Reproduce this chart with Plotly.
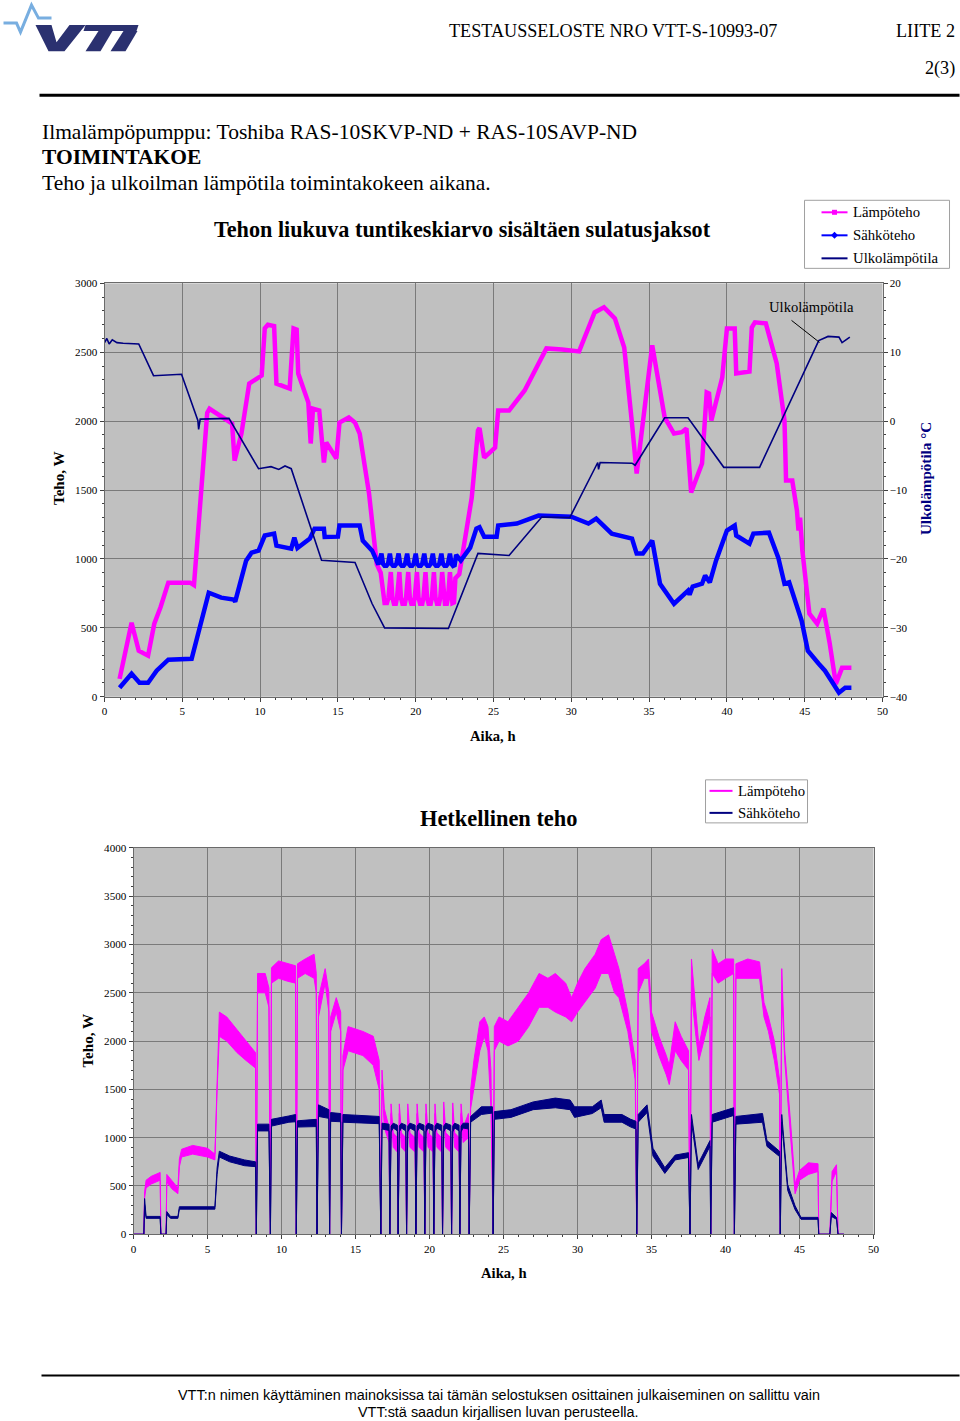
import plotly.graph_objects as go

FW, FH = 960, 1421

# ---------------- Chart 1: hourly moving average ----------------
lamp1 = [(0.97,130),(1.74,537),(2.2,334),(2.8,298),(3.2,530),(3.6,650),(4.1,828),(5.5,828),(5.75,810),
         (6.6,2060),(6.75,2090),(7.2,2055),(8.2,1983),(8.36,1714),(8.8,1910),(9.1,2128),(9.3,2273),(10.1,2331),
         (10.3,2673),(10.5,2700),(10.9,2690),(11.05,2273),(11.9,2237),(12.15,2673),(12.35,2665),(12.45,2346),
         (13.1,2135),(13.25,1838),(13.4,2090),(13.8,2077),(14.1,1700),(14.25,1845),(14.9,1729),(15.1,1990),
         (15.7,2027),(16.1,1990),(16.4,1910),(17.0,1475),(17.3,1150),(17.5,960),(17.75,900),
         (17.9,720),(18.0,680),(18.15,680),(18.25,720),(18.4,905),
         (18.5,720),(18.6,675),(18.72,675),(18.8,720),(18.95,905),
         (19.05,720),(19.15,675),(19.3,675),(19.38,720),(19.52,905),
         (19.62,720),(19.72,675),(19.86,675),(19.94,720),(20.08,905),
         (20.18,720),(20.28,675),(20.42,675),(20.5,720),(20.63,905),
         (20.73,720),(20.83,675),(20.96,675),(21.04,720),(21.17,905),
         (21.27,720),(21.37,675),(21.5,675),(21.58,720),(21.7,905),
         (21.8,720),(21.88,675),(22.0,675),(22.08,720),(22.2,905),
         (22.28,720),(22.36,680),(22.46,685),(22.55,860),(22.8,890),(23.1,1100),(23.6,1445),(24.0,1932),
         (24.1,1950),(24.4,1736),(25.1,1808),
         (25.3,2077),(26.0,2077),(27.0,2223),(28.4,2528),(29.4,2520),(30.0,2515),(30.5,2506),(31.5,2789),
         (32.1,2826),(32.8,2746),(33.4,2535),(33.9,1983),(34.2,1620),(35.2,2550),(36.0,2027),(36.6,1910),
         (37.1,1920),(37.4,1947),(37.7,1482),(38.4,1692),(38.7,2208),(38.85,2200),(39.0,2005),(39.7,2317),
         (40.0,2673),(40.5,2673),(40.6,2346),(41.45,2360),(41.6,2680),(41.8,2717),(42.5,2710),(43.2,2419),
         (43.7,2005),(43.8,1569),(44.2,1569),(44.5,1351),(44.6,1206),(44.7,1300),(44.85,1060),(45.3,603),
         (45.8,530),(46.2,640),(46.6,392),(47.0,94),(47.4,210),(48.0,210)]

sahko1 = [(0.97,65),(1.74,167),(2.25,102),(2.8,102),(3.35,189),(4.1,269),(5.6,276),(6.7,755),(7.5,719),
          (8.3,705),(8.4,690),(9.1,988),(9.45,1046),(9.9,1060),(10.3,1170),(10.9,1184),(11.05,1097),(12.0,1075),
          (12.2,1155),(12.4,1080),(13.2,1148),(13.5,1220),(14.1,1220),(14.15,1160),(15.0,1162),(15.1,1242),
          (16.4,1242),(16.6,1133),(17.2,1060),(17.4,1002),(17.6,960),(17.8,1039),
          (17.9,965),(18.0,950),(18.12,950),(18.22,965),(18.34,1039),
          (18.44,965),(18.54,950),(18.66,950),(18.76,965),(18.9,1039),
          (19.0,965),(19.1,950),(19.22,950),(19.32,965),(19.45,1039),
          (19.55,965),(19.65,950),(19.77,950),(19.87,965),(20.0,1039),
          (20.1,965),(20.2,950),(20.32,950),(20.42,965),(20.55,1039),
          (20.65,965),(20.75,950),(20.87,950),(20.97,965),(21.1,1039),
          (21.2,965),(21.3,950),(21.42,950),(21.52,965),(21.65,1039),
          (21.75,965),(21.85,950),(21.97,950),(22.07,965),(22.2,1039),
          (22.3,965),(22.4,950),(22.5,955),(22.6,1030),(22.9,988),(23.5,1082),
          (23.9,1220),(24.1,1230),(24.4,1162),(25.2,1162),(25.3,1242),(26.5,1257),(27.9,1315),(30.0,1307),
          (31.1,1257),(31.6,1293),(32.6,1184),(33.9,1148),(34.2,1039),(34.6,1039),(35.2,1133),(35.7,820),
          (36.6,675),(37.5,770),(37.6,740),(37.8,800),(38.4,820),(38.6,879),(38.9,830),(39.3,988),(40.0,1206),
          (40.5,1242),(40.6,1170),(41.45,1111),(41.7,1184),(42.7,1191),(43.3,1010),(43.7,820),(44.0,830),
          (44.8,552),(45.2,334),(45.9,240),(46.3,189),(47.2,29),(47.6,65),(48.0,65)]

ulko = [(0.0,11.4),(0.15,12.0),(0.3,11.2),(0.5,11.8),(0.8,11.4),(1.2,11.3),(2.2,11.2),(3.15,6.6),(4.95,6.8),
        (6.0,0.1),(6.05,-1.2),(6.15,0.3),(8.0,0.4),(8.5,-1.5),(9.9,-6.9),(10.7,-6.6),(11.2,-7.0),(11.6,-6.5),
        (12.0,-6.9),(13.95,-20.2),(16.1,-20.5),(17.2,-26.5),(18.0,-30.0),(22.1,-30.1),(24.0,-19.2),(26.0,-19.5),
        (28.1,-13.9),(29.9,-14.0),(31.7,-6.0),(31.75,-7.0),(31.85,-6.0),(33.9,-6.1),(34.1,-6.4),(36.0,0.5),
        (37.5,0.5),(39.8,-6.7),(42.1,-6.7),(45.9,11.7),(46.5,12.3),(47.2,12.2),(47.4,11.4),(47.9,12.2)]

# ---------------- Chart 2: instantaneous power (time, low, high of noisy band) ----------------
lamp2 = [(0.0,0,0),(0.7,0,0),(0.75,380,440),(0.85,480,560),(1.2,520,600),(1.8,560,640),(1.85,0,0),(2.2,0,0),
         (2.25,540,620),(2.6,470,560),(3.0,420,480),(3.1,700,780),(3.25,800,880),(4.0,830,920),(5.0,800,890),
         (5.5,770,830),(5.65,1500,1650),(5.8,2050,2300),(6.3,2000,2250),(7.0,1880,2120),(7.6,1800,2000),
         (8.25,1720,1880),(8.3,0,0),(8.38,2500,2700),(8.9,2500,2700),(9.15,2350,2550),(9.25,0,0),
         (9.32,2600,2760),(9.8,2650,2830),(10.4,2620,2800),(10.95,2600,2780),(11.0,0,0),(11.08,2650,2800),
         (11.6,2700,2850),(12.2,2650,2900),(12.35,2500,2700),(12.4,0,0),(12.5,2250,2450),(12.95,2600,2750),
         (13.2,2300,2500),(13.25,0,0),(13.32,2100,2250),(13.7,2300,2450),(14.0,2100,2300),(14.05,0,0),
         (14.15,1700,1850),(14.5,1900,2150),(15.5,1850,2100),(16.2,1750,2050),(16.6,1500,1800),(16.71,0,0),
         (16.79,1550,1700),(16.95,1100,1300),(17.27,950,1100),(17.32,0,0),
         (17.4,1250,1350),(17.55,900,1050),(17.83,850,1000),(17.88,0,0),
         (17.96,1250,1350),(18.1,900,1050),(18.4,850,1000),(18.45,0,0),
         (18.53,1250,1350),(18.68,900,1050),(19.03,850,1000),(19.08,0,0),
         (19.16,1250,1350),(19.3,900,1050),(19.63,850,1000),(19.68,0,0),
         (19.76,1250,1350),(19.9,900,1050),(20.24,850,1000),(20.29,0,0),
         (20.37,1250,1350),(20.5,900,1050),(20.83,850,1000),(20.88,0,0),
         (20.96,1250,1370),(21.1,900,1050),(21.44,850,1000),(21.49,0,0),
         (21.57,1250,1360),(21.7,900,1050),(22.0,850,1000),(22.05,0,0),
         (22.13,1250,1350),(22.27,950,1100),(22.63,1000,1250),(22.68,0,0),
         (22.78,1300,1500),(23.0,1500,1800),(23.4,1900,2200),(23.7,2050,2250),(23.95,1900,2150),
         (24.15,1300,1700),(24.3,0,0),(24.38,1900,2150),(24.7,2000,2250),(25.3,1950,2200),(26.0,2000,2350),
         (26.7,2150,2500),(27.4,2350,2700),(28.0,2350,2650),(28.5,2300,2700),(29.2,2250,2600),(29.6,2200,2450),
         (30.0,2300,2600),(30.5,2400,2750),(31.2,2550,2900),(31.6,2700,3050),(32.1,2700,3100),(32.5,2500,2900),
         (32.8,2450,2750),(33.4,2100,2300),(33.9,1600,1800),(34.0,0,0),(34.1,2500,2750),(34.5,2650,2800),
         (34.8,2650,2850),(35.0,2100,2300),(35.5,1850,2050),(36.0,1650,1850),(36.2,1550,1750),(36.6,1900,2200),
         (37.0,1800,2050),(37.5,1700,1900),(37.6,0,0),(37.7,2500,2850),(38.0,2050,2250),(38.2,1800,1950),
         (38.6,2050,2250),(38.95,2250,2450),(39.0,0,0),(39.1,2700,2950),(39.5,2600,2800),(40.0,2650,2850),
         (40.55,2700,2850),(40.6,0,0),(40.7,2650,2800),(41.5,2650,2850),(42.3,2650,2820),(42.6,2250,2400),
         (42.9,2100,2250),(43.3,1800,2000),(43.65,1450,1600),(43.7,0,0),(43.8,2500,2750),(44.0,1800,1900),
         (44.4,1000,1150),(44.7,420,520),(45.0,560,660),(45.6,620,740),(46.25,650,730),(46.3,0,0),(47.05,0,0),
         (47.2,550,650),(47.5,650,720),(47.6,0,0),(48.0,0,0)]

sahko2 = [(0.0,0,0),(0.7,0,0),(0.75,300,370),(0.85,165,185),(1.8,165,185),(1.85,0,0),(2.2,0,0),(2.25,205,235),
          (2.5,165,185),(3.0,165,185),(3.1,260,285),(5.5,260,285),(5.65,620,690),(5.8,800,860),(6.5,750,810),
          (7.5,710,770),(8.25,700,750),(8.3,0,0),(8.38,1070,1140),(9.15,1070,1140),(9.25,0,0),(9.32,1120,1190),
          (10.5,1160,1225),(10.95,1165,1240),(11.0,0,0),(11.08,1110,1175),(12.35,1115,1190),(12.4,0,0),
          (12.5,1220,1340),(13.2,1200,1290),(13.25,0,0),(13.32,1170,1260),(14.0,1165,1250),(14.05,0,0),
          (14.15,1160,1240),(16.6,1145,1220),(16.71,0,0),
          (16.79,1090,1150),(17.27,1075,1140),(17.32,0,0),
          (17.4,1060,1120),(17.55,1100,1150),(17.83,1070,1130),(17.88,0,0),
          (17.96,1060,1120),(18.1,1100,1150),(18.4,1070,1130),(18.45,0,0),
          (18.53,1060,1120),(18.68,1100,1150),(19.03,1070,1130),(19.08,0,0),
          (19.16,1060,1120),(19.3,1100,1150),(19.63,1070,1130),(19.68,0,0),
          (19.76,1060,1120),(19.9,1100,1150),(20.24,1070,1130),(20.29,0,0),
          (20.37,1060,1120),(20.5,1100,1150),(20.83,1070,1130),(20.88,0,0),
          (20.96,1060,1120),(21.1,1100,1150),(21.44,1070,1130),(21.49,0,0),
          (21.57,1060,1120),(21.7,1100,1150),(22.0,1070,1130),(22.05,0,0),
          (22.13,1060,1120),(22.27,1100,1150),(22.63,1090,1150),(22.68,0,0),
          (22.78,1160,1220),(23.5,1240,1320),(24.25,1255,1320),(24.3,0,0),(24.38,1190,1270),(25.5,1210,1290),
          (27.0,1290,1370),(28.5,1310,1410),(29.5,1290,1390),(29.8,1210,1320),(31.0,1250,1320),(31.6,1310,1390),
          (31.8,1160,1240),(33.0,1160,1240),(33.6,1110,1190),(33.95,1090,1170),(34.0,0,0),(34.1,1160,1240),
          (34.7,1260,1340),(35.1,810,890),(35.9,630,690),(36.6,770,820),(37.5,795,845),(37.6,0,0),
          (37.7,1160,1240),(38.15,670,730),(38.95,910,970),(39.0,0,0),(39.1,1160,1240),(40.55,1230,1310),
          (40.6,0,0),(40.7,1140,1220),(42.5,1160,1250),(42.8,910,970),(43.65,805,860),(43.7,0,0),
          (43.8,1160,1240),(44.2,455,515),(44.7,255,295),(45.1,155,175),(46.25,155,175),(46.3,0,0),
          (47.05,0,0),(47.15,185,225),(47.5,155,175),(47.6,0,0),(48.0,0,0)]

x_ticks = [0, 5, 10, 15, 20, 25, 30, 35, 40, 45, 50]

MAGENTA = "#ff00ff"
BLUE = "#0000ff"
NAVY = "#000080"
SERIF = "Liberation Serif"
SANS = "Liberation Sans"

# empirical compensation of the capture transform (rendered = K * page + offset)
K = 0.9906
OX, OY = 1.5, 5.9


def px(x):
    return (x - OX) / K / FW


def py(y):
    return 1 - (y - OY) / K / FH


def fs(s):
    return s / K


def band(rows):
    t = [r[0] for r in rows]
    lo = [r[1] for r in rows]
    hi = [r[2] for r in rows]
    return t + t[::-1], hi + lo[::-1]


fig = go.Figure()

# chart 1 traces
fig.add_trace(go.Scatter(x=[r[0] for r in lamp1], y=[r[1] for r in lamp1], mode="lines",
                         line=dict(color=MAGENTA, width=4.5), xaxis="x", yaxis="y", showlegend=False))
fig.add_trace(go.Scatter(x=[r[0] for r in sahko1], y=[r[1] for r in sahko1], mode="lines",
                         line=dict(color=BLUE, width=4.5), xaxis="x", yaxis="y", showlegend=False))
fig.add_trace(go.Scatter(x=[r[0] for r in ulko], y=[r[1] for r in ulko], mode="lines",
                         line=dict(color=NAVY, width=1.6), xaxis="x", yaxis="y2", showlegend=False))

# chart 2 traces
bx, by = band(lamp2)
fig.add_trace(go.Scatter(x=bx, y=by, mode="lines", fill="toself", fillcolor=MAGENTA,
                         line=dict(color=MAGENTA, width=1), xaxis="x2", yaxis="y3", showlegend=False))
bx, by = band(sahko2)
fig.add_trace(go.Scatter(x=bx, y=by, mode="lines", fill="toself", fillcolor=NAVY,
                         line=dict(color=NAVY, width=1), xaxis="x2", yaxis="y3", showlegend=False))

TICKFONT = dict(family=SERIF, size=fs(11), color="black")
axis_common = dict(showgrid=True, gridcolor="#7a7a7a", gridwidth=1, linecolor="#6a6a6a", linewidth=1,
                   mirror=True, ticks="outside", ticklen=4, tickcolor="#404040", zeroline=False,
                   tickfont=TICKFONT, showline=True)

fig.update_layout(
    width=FW, height=FH, margin=dict(l=0, r=0, t=0, b=0),
    paper_bgcolor="white", plot_bgcolor="#c0c0c0", showlegend=False,
    xaxis=dict(domain=[px(103), px(881)], range=[0, 50], tickvals=x_ticks, anchor="y",
               minor=dict(dtick=1, ticks="outside", ticklen=2, tickcolor="#404040"), **axis_common),
    yaxis=dict(domain=[py(696), py(283)], range=[0, 3000], dtick=500, anchor="x",
               minor=dict(dtick=100, ticks="outside", ticklen=2, tickcolor="#404040"), **axis_common),
    yaxis2=dict(overlaying="y", side="right", range=[-40, 20], dtick=10, anchor="x", showgrid=False,
                ticks="outside", ticklen=4, tickcolor="#404040", zeroline=False, showline=True,
                linecolor="#6a6a6a", tickfont=TICKFONT,
                minor=dict(dtick=2, ticks="outside", ticklen=2, tickcolor="#404040")),
    xaxis2=dict(domain=[px(132), px(872)], range=[0, 50], tickvals=x_ticks, anchor="y3",
                minor=dict(dtick=1, ticks="outside", ticklen=2, tickcolor="#404040"), **axis_common),
    yaxis3=dict(domain=[py(1233), py(847)], range=[0, 4000], dtick=500, anchor="x2",
                minor=dict(dtick=100, ticks="outside", ticklen=2, tickcolor="#404040"), **axis_common),
)

ann = []


def text(x, y, s, size, family=SERIF, color="black", xanchor="center", bold=False, angle=0, yanchor="middle"):
    ann.append(dict(x=px(x), y=py(y), xref="paper", yref="paper", text=f"<b>{s}</b>" if bold else s,
                    showarrow=False, xanchor=xanchor, yanchor=yanchor, textangle=angle,
                    font=dict(family=family, size=fs(size), color=color)))


# header
text(611, 31, "TESTAUSSELOSTE NRO VTT-S-10993-07", 18)
text(955, 31, "LIITE 2", 18, xanchor="right")
text(955, 68, "2(3)", 18, xanchor="right")
text(38, 132, "Ilmalämpöpumppu: Toshiba RAS-10SKVP-ND + RAS-10SAVP-ND", 21.3, xanchor="left")
text(38, 157, "TOIMINTAKOE", 21.3, xanchor="left", bold=True)
text(38, 183, "Teho ja ulkoilman lämpötila toimintakokeen aikana.", 21.3, xanchor="left")

# chart 1 texts
text(461, 229, "Tehon liukuva tuntikeskiarvo sisältäen sulatusjaksot", 22, bold=True)
text(57, 478, "Teho, W", 15, bold=True, angle=-90)
text(924, 478, "Ulkolämpötila °C", 15, bold=True, angle=-90, color=NAVY)
text(491, 735, "Aika, h", 14.5, bold=True)
text(810, 307, "Ulkolämpötila", 14.5)

# legend 1
text(849, 212, "Lämpöteho", 14.6, xanchor="left")
text(849, 235, "Sähköteho", 14.6, xanchor="left")
text(849, 258, "Ulkolämpötila", 14.6, xanchor="left")

# chart 2 texts
text(497, 818, "Hetkellinen teho", 22.2, bold=True)
text(87, 1040, "Teho, W", 15, bold=True, angle=-90)
text(502, 1272, "Aika, h", 14.5, bold=True)
text(734, 790, "Lämpöteho", 14.6, xanchor="left")
text(734, 812, "Sähköteho", 14.6, xanchor="left")

# footer
text(497, 1394, "VTT:n nimen käyttäminen mainoksissa tai tämän selostuksen osittainen julkaiseminen on sallittu vain", 14.3, family=SANS)
text(497, 1411, "VTT:stä saadun kirjallisen luvan perusteella.", 14.3, family=SANS)

shapes = []


def line(x0, y0, x1, y1, color="black", width=1):
    shapes.append(dict(type="line", xref="paper", yref="paper", x0=px(x0), y0=py(y0), x1=px(x1), y1=py(y1),
                       line=dict(color=color, width=width)))


def rect(x0, y0, x1, y1, color="#a0a0a0", fill="white"):
    shapes.append(dict(type="rect", xref="paper", yref="paper", x0=px(x0), y0=py(y0), x1=px(x1), y1=py(y1),
                       line=dict(color=color, width=1), fillcolor=fill, layer="below"))


def poly(pts, fill, color=None, width=0, closed=True):
    d = "M " + " L ".join(f"{px(a):.5f},{py(b):.5f}" for a, b in pts) + (" Z" if closed else "")
    shapes.append(dict(type="path", xref="paper", yref="paper", path=d,
                       fillcolor=fill if closed else None,
                       line=dict(color=color or fill, width=width)))


# header / footer rules
line(38, 95, 958, 95, width=3)
line(40, 1374, 958, 1374, width=2)

# VTT logo
poly([(2, 23), (15, 23), (19, 32), (30, 5), (37, 18), (50, 18)], None, color="#78aee0", width=3, closed=False)
LOGO = "#2b3170"
poly([(34, 25), (50, 25), (55, 42), (68, 25), (84, 25), (63, 51), (47, 51)], LOGO)
poly([(84, 25), (137, 25), (135, 31), (82, 31)], LOGO)
poly([(97, 31), (111, 31), (99, 51), (84, 51)], LOGO)
poly([(122, 31), (136, 31), (124, 51), (109, 51)], LOGO)

# callout line
line(790, 320, 818, 342, width=1)

# legend 1 box and symbols
rect(803, 200, 948, 268)
line(820, 212, 846, 212, color=MAGENTA, width=2)
shapes.append(dict(type="rect", xref="paper", yref="paper", x0=px(830.5), y0=py(214.5), x1=px(835.5), y1=py(209.5),
                   fillcolor=MAGENTA, line=dict(color=MAGENTA, width=0)))
line(820, 235, 846, 235, color=BLUE, width=2)
poly([(833, 231.5), (836.5, 235), (833, 238.5), (829.5, 235)], BLUE)
line(820, 258, 846, 258, color=NAVY, width=2)

# legend 2 box
rect(704, 779, 806, 822)
line(708, 790, 731, 790, color=MAGENTA, width=2)
line(708, 812, 731, 812, color=NAVY, width=2)

fig.update_layout(annotations=ann, shapes=shapes)
fig.write_html("out.html", config={"displayModeBar": False},
               post_script="document.body.style.margin='0px';"
                           "document.documentElement.style.overflow='hidden';"
                           "document.body.style.overflow='hidden';")
